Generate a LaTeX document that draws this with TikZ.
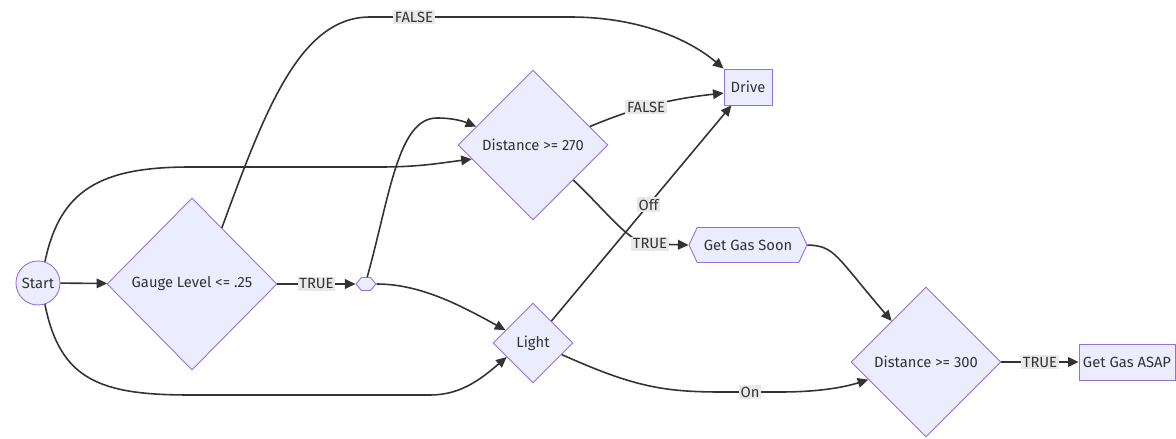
\documentclass[tikz,border=0pt]{standalone}
\usepackage{fontspec}
\setmainfont{Fira Sans}
\usetikzlibrary{shapes.geometric, shapes.symbols, arrows.meta}
\definecolor{nodefill}{HTML}{ECECFF}
\definecolor{nodeline}{HTML}{9370DB}
\definecolor{ink}{HTML}{333333}
\definecolor{lblback}{HTML}{E8E8E8}

\begin{document}
\begin{tikzpicture}[x=0.02cm, y=-0.02cm,
    every node/.style={font=\fontsize{8.4}{10}\selectfont, text=ink},
    shape base/.style={draw=nodeline, fill=nodefill, line width=0.5pt, inner sep=2pt},
    decision/.style={shape base, diamond, aspect=1},
    startnode/.style={shape base, circle, minimum size=0.88cm, inner sep=0pt},
    box/.style={shape base, rectangle, minimum height=0.72cm},
    hexnode/.style={shape base, signal, signal to=west and east},
    link/.style={draw=ink, line width=0.9pt, -{Triangle[length=6pt, width=5.5pt]}},
    lbl/.style={fill=lblback, inner sep=1pt}]
  \useasboundingbox[fill=white] (0,0) rectangle (1176,439);
  % Nodes
  \node[startnode] (start) at (38,283) {Start};
  \node[decision, minimum width=3.4cm, minimum height=3.44cm] (gauge) at (192,284) {Gauge Level <= .25};
  \node[hexnode, signal pointer angle=100, minimum width=0.4cm, minimum height=0.26cm, inner sep=0pt] (split) at (366,284) {};
  \node[decision, minimum width=3cm, minimum height=3cm] (d270) at (533,145) {Distance >= 270};
  \node[box, minimum width=0.96cm] (drive) at (748,87) {Drive};
  \node[decision, minimum width=1.6cm, minimum height=1.6cm] (light) at (533,343) {Light};
  \node[hexnode, signal pointer angle=130, minimum width=2.36cm, minimum height=0.7cm] (soon) at (748,245) {Get Gas Soon};
  \node[decision, minimum width=3cm, minimum height=3cm] (d300) at (926,362) {Distance >= 300};
  \node[box, minimum width=1.92cm] (asap) at (1127,362) {Get Gas ASAP};
  % Straight links
  \draw[link] (start) -- (gauge);
  \draw[link] (gauge) -- node[lbl] {TRUE} (split);
  \draw[link] (light.50) -- node[lbl, pos=0.54] {Off} (drive.228);
  \draw[link] (d300) -- node[lbl] {TRUE} (asap);
  % Curved links
  \draw[link] (gauge.62) .. controls (265,110) and (300,17) .. (370,17)
    -- node[lbl, pos=0.22] {FALSE} (570,17) .. controls (640,17) and (690,40) .. (drive.north west);
  \draw[link] (start.72) .. controls (60,190) and (100,167) .. (190,167)
    -- (380,167) .. controls (420,167) and (440,163) .. (d270.193);
  \draw[link] (start.-72) .. controls (60,380) and (100,395) .. (190,395)
    -- (430,395) .. controls (460,395) and (480,380) .. (light.208);
  \draw[link] (split.80) .. controls (390,195) and (398,118) .. (437,118)
    .. controls (455,118) and (465,122) .. (d270.162);
  \draw[link] (split.east) .. controls (420,284) and (460,305) .. (light.155);
  \draw[link] (d270.18) .. controls (625,112) and (660,100) .. node[lbl] {FALSE} (drive.194);
  \draw[link] (d270.-41) .. controls (610,215) and (630,244) .. (650,244)
    node[lbl] {TRUE} -- (soon.west);
  \draw[link] (light.-22) .. controls (630,385) and (660,392) .. (720,392)
    -- node[lbl] {On} (780,392) .. controls (820,392) and (845,387) .. (d300.197);
  \draw[link] (soon.east) .. controls (835,246) and (835,255) .. (d300.130);
\end{tikzpicture}
\end{document}
